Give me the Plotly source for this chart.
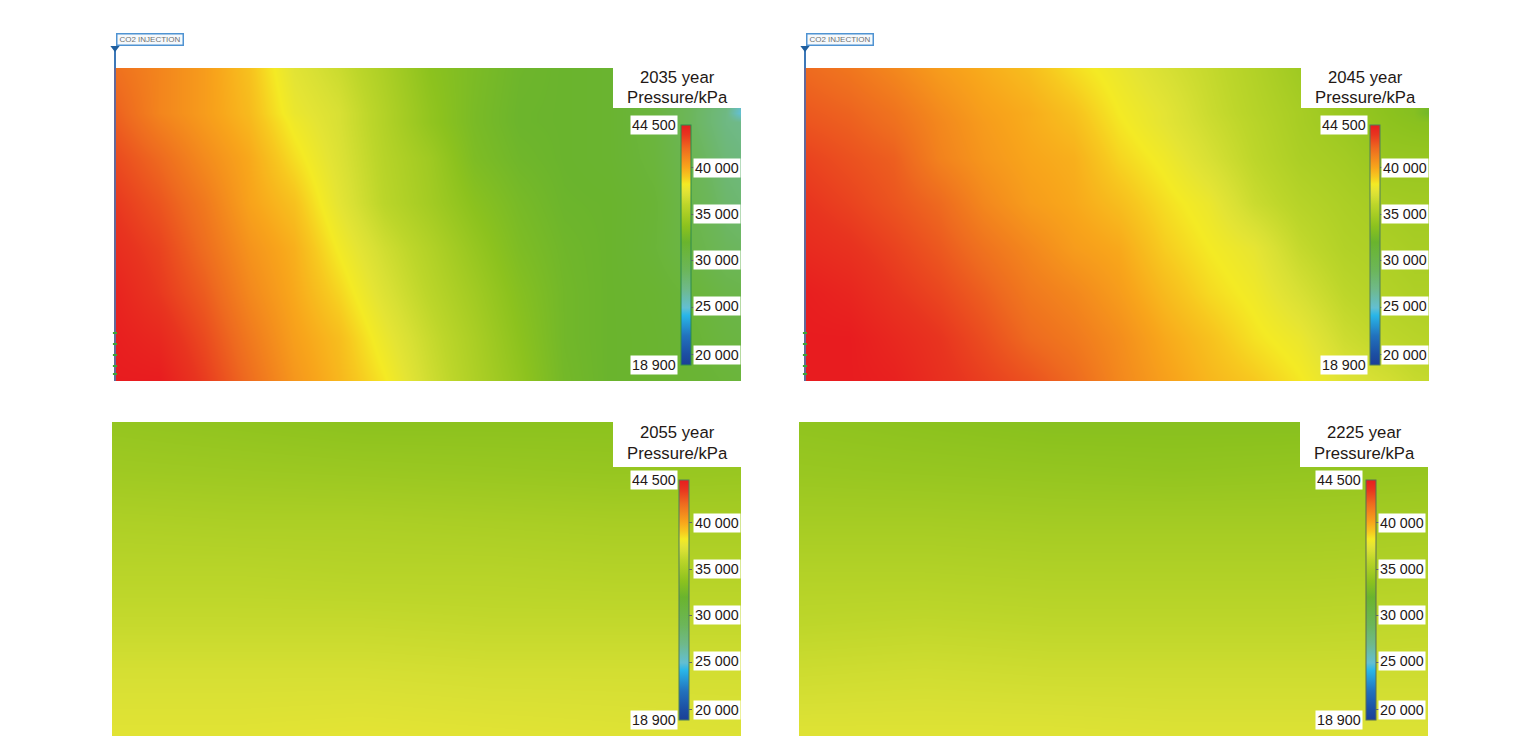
import plotly.graph_objects as go

# the page keeps the browser's 8px body margin, so the figure is that much smaller
PAGE_M = 8
W = 1524 - 2 * PAGE_M
H = 756 - 2 * PAGE_M

# pressure scale of the simulator, kPa -> colour
scale_min = 18900
scale_max = 44500
scale_values = [18900, 20000, 22000, 24200, 25000, 27000, 29000, 32000, 33700, 35000,
                36000, 37000, 37500, 38200, 39000, 40000, 42000, 43500, 44500]
scale_colors = ["#1b3f96", "#1c4ea2", "#2272bd", "#29b6e8", "#63bfd2", "#6fb98a", "#6cb65a",
                "#6ab42d", "#8cc21e", "#a8cd24", "#bdd62a", "#d8e034", "#e4e434", "#f4ea24",
                "#f7c81f", "#f8a51b", "#ee6a1f", "#e8341f", "#e81c1f"]
cb_ticks = [20000, 25000, 30000, 35000, 40000]
cb_tick_labels = ["20 000", "25 000", "30 000", "35 000", "40 000"]
cb_label_nudge = [0, 2, 1, 0, -1]
min_label = "18 900"
max_label = "44 500"

years = ["2035", "2045", "2055", "2225"]

# grid positions along the section
grid_x_2035 = [0, 45, 90, 135, 180, 225, 270, 315, 360, 405, 450, 495, 540, 585, 612, 627]
grid_y_2035 = [0, 45, 54, 90, 135, 180, 225, 270, 313]
p_2035 = [
    [41800, 41100, 40300, 39200, 37400, 36500, 35200, 33700, 32900, 32200, 32000, 31800, 31000, 29000, 28000, 27800],
    [42300, 41100, 40300, 39400, 37800, 37000, 35500, 34000, 32800, 32100, 32000, 31800, 30800, 28500, 27300, 24800],
    [42400, 41300, 40400, 39500, 38000, 37000, 35500, 34000, 32800, 32100, 32000, 31800, 30800, 28500, 27300, 27000],
    [42900, 42000, 40900, 39900, 38500, 37200, 35700, 34600, 33000, 32300, 32000, 31800, 31000, 29000, 27800, 27500],
    [43400, 42600, 41500, 40100, 39200, 37500, 35900, 34800, 33600, 32700, 32100, 32000, 31400, 29500, 28300, 28000],
    [43800, 43100, 41900, 40600, 39700, 38100, 36700, 35500, 34200, 33000, 32300, 32000, 31300, 30000, 29000, 28800],
    [44200, 43400, 42400, 41000, 39900, 38700, 37200, 35900, 34700, 33400, 32400, 32000, 31700, 31000, 30200, 30000],
    [44400, 44000, 42900, 41500, 40200, 39300, 37800, 36400, 35100, 33700, 32400, 32000, 31800, 31300, 30700, 30500],
    [44500, 44500, 43300, 41900, 40500, 39500, 38300, 36700, 35300, 34000, 32500, 32000, 31800, 31500, 31200, 31000],
]

grid_x_2045 = [0, 45, 90, 135, 180, 225, 270, 315, 360, 405, 450, 495, 540, 585, 610, 625]
grid_y_2045 = [0, 45, 54, 90, 135, 180, 225, 270, 313]
p_2045 = [
    [42000, 41600, 41000, 40300, 39800, 39300, 38500, 37800, 37000, 36300, 35500, 34600, 34000, 33500, 33200, 33000],
    [42500, 42200, 41700, 40900, 40200, 39800, 39200, 38200, 37500, 36500, 35700, 35000, 34300, 33700, 33400, 32400],
    [42600, 42300, 41800, 41000, 40300, 39800, 39300, 38300, 37500, 36600, 35800, 35000, 34400, 33800, 33600, 33500],
    [43100, 42700, 42300, 41200, 40500, 40000, 39700, 38700, 38000, 37000, 36000, 35200, 34800, 34200, 34200, 34200],
    [43500, 43100, 42600, 42000, 41000, 40300, 39900, 39300, 38500, 37800, 36500, 35700, 35200, 34800, 34700, 34700],
    [43900, 43600, 43100, 42500, 41700, 41000, 40300, 39900, 38900, 38200, 37600, 36300, 35500, 35200, 35000, 35000],
    [44400, 44100, 43500, 43000, 42300, 41500, 41000, 40300, 39400, 38600, 38000, 37000, 36000, 35500, 35300, 35300],
    [44500, 44500, 44000, 43500, 42800, 42000, 41500, 40800, 39900, 39200, 38400, 37800, 36600, 36000, 35800, 35700],
    [44500, 44500, 44300, 43700, 43200, 42700, 42000, 41000, 40200, 39500, 39000, 38300, 37300, 36800, 36400, 36300],
]

grid_x_late = [0, 125, 250, 375, 500, 629]
grid_y_late = [0, 50, 100, 150, 200, 250, 314]
p_2055 = [
    [34100, 33900, 33700, 33700, 33700, 33900],
    [34600, 34500, 34400, 34300, 34200, 34300],
    [35300, 35200, 35200, 35100, 35000, 35000],
    [35800, 35800, 35700, 35700, 35600, 35600],
    [36300, 36300, 36300, 36200, 36200, 36200],
    [36900, 36900, 36900, 36800, 36800, 36800],
    [37400, 37400, 37500, 37400, 37300, 37200],
]
p_2225 = [
    [33900, 33700, 33500, 33500, 33500, 33700],
    [34300, 34200, 34100, 34000, 34100, 34200],
    [34900, 34900, 34800, 34800, 34800, 34900],
    [35500, 35500, 35400, 35400, 35400, 35500],
    [36000, 36100, 36000, 36000, 36000, 36100],
    [36600, 36700, 36600, 36600, 36600, 36600],
    [37300, 37300, 37300, 37200, 37200, 37200],
]

# injection well, depth along the section (above the grid top is negative)
well_x = 1
well_y_above = [-20, 0]
well_y_below = [0, 313]
perf_y = [265, 276, 287, 298, 306]
well_label = "CO2 INJECTION"
well_head_px = 33

# panel boxes in pixels: left, right, top, bottom
panels = [
    dict(year=years[0], x=grid_x_2035, y=grid_y_2035, z=p_2035, box=(114, 741, 68, 381),
         cb=(681, 125), left_lab=678, right_lab=693, title_h=40, line_y=(77, 97), outline="#2c8c4c", well=True),
    dict(year=years[1], x=grid_x_2045, y=grid_y_2045, z=p_2045, box=(804, 1429, 68, 381),
         cb=(1370, 125), left_lab=1368, right_lab=1381, title_h=40, line_y=(77, 97), outline="#4f7f5a", well=True),
    dict(year=years[2], x=grid_x_late, y=grid_y_late, z=p_2055, box=(112, 741, 422, 736),
         cb=(679, 480), left_lab=678, right_lab=693, title_h=45, line_y=(432, 453), outline="#4f7f5a", well=False),
    dict(year=years[3], x=grid_x_late, y=grid_y_late, z=p_2225, box=(799, 1428, 422, 736),
         cb=(1365.5, 480), left_lab=1363, right_lab=1378, title_h=45, line_y=(432, 453), outline="#5a6f50", well=False),
]
title_w = 128
cb_len = 240
cb_w = 10

font_name = "Liberation Sans"
text_color = "#231815"


def px(x):
    return (x - PAGE_M) / W


def py(y):
    return 1 - (y - PAGE_M) / H


colorscale = [[(v - scale_min) / (scale_max - scale_min), c] for v, c in zip(scale_values, scale_colors)]

fig = go.Figure()
annotations = []
shapes = []
layout_axes = {}

for i, p in enumerate(panels):
    n = "" if i == 0 else str(i + 1)
    left, right, top, bottom = p["box"]
    cb_x, cb_top = p["cb"]

    fig.add_trace(go.Heatmap(
        x=p["x"], y=p["y"], z=p["z"],
        xaxis="x" + n, yaxis="y" + n,
        zmin=scale_min, zmax=scale_max,
        colorscale=colorscale,
        zsmooth="best",
        colorbar=dict(
            x=px(cb_x), xanchor="left", y=py(cb_top), yanchor="top",
            len=cb_len, lenmode="pixels", thickness=cb_w, thicknessmode="pixels",
            xpad=0, ypad=0, outlinecolor=p["outline"], outlinewidth=1, borderwidth=0,
            tickvals=cb_ticks, ticks="outside", ticklen=3, tickcolor="#666666",
            showticklabels=False,
        ),
    ))

    layout_axes["xaxis" + n] = dict(domain=[px(left), px(right)], range=[0, right - left],
                                    visible=False, anchor="y" + n)
    layout_axes["yaxis" + n] = dict(domain=[py(bottom), py(top)], range=[bottom - top, 0],
                                    visible=False, anchor="x" + n)

    if p["well"]:
        # the well gets its own axes, they reach above the grid and left of it
        wn = str(i + 5)
        layout_axes["xaxis" + wn] = dict(domain=[px(left - 10), px(left + 10)], range=[-10, 10],
                                         visible=False, anchor="y" + wn)
        layout_axes["yaxis" + wn] = dict(domain=[py(bottom), py(well_head_px)],
                                         range=[bottom - top, well_head_px - top],
                                         visible=False, anchor="x" + wn)
        fig.add_trace(go.Scatter(
            x=[well_x, well_x], y=well_y_above, xaxis="x" + wn, yaxis="y" + wn, mode="lines",
            line=dict(color="#3d78b8", width=2), showlegend=False, hoverinfo="skip"))
        fig.add_trace(go.Scatter(
            x=[well_x, well_x], y=well_y_below, xaxis="x" + wn, yaxis="y" + wn, mode="lines",
            line=dict(color="#62699a", width=2), showlegend=False, hoverinfo="skip"))
        fig.add_trace(go.Scatter(
            x=[well_x], y=well_y_above[:1], xaxis="x" + wn, yaxis="y" + wn, mode="markers",
            marker=dict(symbol="triangle-down", size=8, color="#1f5f9f"),
            showlegend=False, hoverinfo="skip"))
        fig.add_trace(go.Scatter(
            x=[well_x] * len(perf_y), y=perf_y, xaxis="x" + wn, yaxis="y" + wn, mode="markers",
            marker=dict(symbol="line-ew", size=3, line=dict(color="#3fa535", width=2)),
            showlegend=False, hoverinfo="skip"))
        annotations.append(dict(
            xref="paper", yref="paper", x=px(left + 2), y=py(well_head_px), xanchor="left", yanchor="top",
            text=well_label, showarrow=False, width=65, height=10, borderpad=0, borderwidth=1.5,
            bordercolor="#4f93d2", bgcolor="#f6f9fc",
            font=dict(family=font_name, size=8, color="#6f6f6f")))

    # white title box in the upper right corner
    shapes.append(dict(
        type="rect", xref="paper", yref="paper", layer="above",
        x0=px(right - title_w), x1=px(right), y0=py(top + p["title_h"]), y1=py(top),
        fillcolor="white", line=dict(width=0)))
    for line_text, line_y in zip([p["year"] + " year", "Pressure/kPa"], p["line_y"]):
        annotations.append(dict(
            xref="paper", yref="paper", x=px(right - title_w / 2), y=py(line_y),
            xanchor="center", yanchor="middle", text=line_text, showarrow=False,
            font=dict(family=font_name, size=16.7, color=text_color)))

    # colour bar labels, white boxes as in the simulator export
    def cb_y(v):
        return cb_top + (scale_max - v) / (scale_max - scale_min) * cb_len

    for v, lab, nudge in zip(cb_ticks, cb_tick_labels, cb_label_nudge):
        annotations.append(dict(
            xref="paper", yref="paper", x=px(p["right_lab"]), y=py(cb_y(v)), yshift=nudge,
            xanchor="left", yanchor="middle",
            text=lab, showarrow=False, bgcolor="white", borderpad=1,
            font=dict(family=font_name, size=14.3, color=text_color)))
    for v, lab in [(scale_max, max_label), (scale_min, min_label)]:
        annotations.append(dict(
            xref="paper", yref="paper", x=px(p["left_lab"]), y=py(cb_y(v)), xanchor="right", yanchor="middle",
            text=lab, showarrow=False, bgcolor="white", borderpad=1,
            font=dict(family=font_name, size=14.3, color=text_color)))

fig.update_layout(
    width=W, height=H, autosize=False,
    margin=dict(l=0, r=0, t=0, b=0),
    paper_bgcolor="white", plot_bgcolor="rgba(0,0,0,0)",
    showlegend=False,
    annotations=annotations,
    shapes=shapes,
    **layout_axes,
)

fig.write_html("out.html")
